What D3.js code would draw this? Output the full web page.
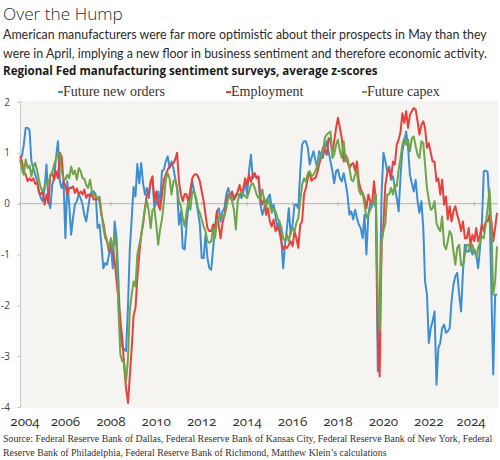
<!DOCTYPE html>
<html lang="en">
<head>
<meta charset="UTF-8">
<title>Over the Hump</title>
<script src="https://d3js.org/d3.v7.min.js"></script>
<style>
  body { margin: 0; background: #fff; }
  svg { display: block; }
</style>
</head>
<body>
<svg width="500" height="460"></svg>
<script>
// Monthly average z-scores, May 2004 to May 2025
const startMonth = new Date(2004, 4, 1);

const futureNewOrders = [
  0.93, 0.93, 1.16, 1.49, 1.49, 1.45, 0.83, 0.70, 0.57, 0.44, 0.24, 0.11,
  0.05, 0.31, 0.77, 0.05, -0.09, 0.37, 0.50, 0.90, 1.23, 0.44, 0.31, 0.44,
  -0.68, 0.44, -0.02, -0.61, -0.28, -0.02, 0.05, 0.18, 0.11, -0.02, -0.22, -0.35,
  -0.09, 0.18, 0.24, 0.24, 0.18, -0.48, -0.41, -0.81, -1.27, -1.17, -1.20, -1.00,
  -0.81, -1.27, -0.35, -0.68, -1.53, -2.58, -2.81, -2.87, -2.90, -2.00, -0.90, -0.30,
  0.33, 0.14, 0.78, 0.40, 0.80, 0.40, 0.18, 0.31, 0.11, 0.44, 0.50, -0.09,
  0.05, 0.24, -0.02, 0.64, 0.67, 0.83, 0.93, 0.70, 0.83, 0.70, 0.50, 0.31,
  -0.41, -0.15, -0.87, -0.90, -0.41, -0.02, 0.18, 0.44, 0.24, 0.05, -0.15, -0.41,
  -1.07, -1.07, -0.61, -1.07, -1.27, -1.30, -0.87, -0.48, -0.15, -0.09, -0.35, -0.15,
  -0.09, 0.18, 0.31, 0.18, 0.05, 0.11, 0.18, 0.18, 0.18, 0.11, 0.24, 0.44,
  0.18, 0.64, 0.96, 0.50, 0.57, 0.50, 0.50, -0.02, -0.22, -0.09, 0.05, 0.11,
  0.18, -0.09, -0.02, -0.25, -0.48, -0.35, -0.68, -1.27, -0.81, -0.48, -0.09, -0.61,
  -0.41, -0.02, -0.02, -0.09, 0.64, 1.16, 1.23, 1.23, 1.10, 0.77, 0.90, 1.03,
  0.87, 0.70, 1.03, 0.96, 0.90, 1.10, 1.23, 1.03, 0.83, 0.64, 0.40, 0.64,
  0.67, 0.50, 0.44, 0.60, 0.40, 0.18, -0.22, -0.15, -0.31, -0.12, -0.28, -0.41,
  -0.48, -0.68, -0.22, -1.00, -0.22, 0.01, -0.02, 0.05, -0.09, -3.30, -2.00, 0.18,
  1.00, 0.83, 0.64, 0.73, 0.47, 0.54, 0.31, 0.11, -0.15, 0.57, 1.03, 1.23,
  1.42, 1.10, 0.57, 0.40, 0.24, 0.47, 0.05, -0.18, 0.05, -0.48, -1.53, -1.79,
  -2.74, -2.45, -2.31, -2.12, -3.56, -2.84, -2.74, -2.45, -2.38, -2.54, -2.51, -2.45,
  -1.92, -1.59, -1.43, -1.36, -1.79, -2.12, -1.33, -0.81, -0.94, -0.94, -0.81, -1.00,
  -0.90, -1.00, -1.27, -0.87, -0.35, 0.64, 0.65, 0.62, -0.02, -1.79, -3.36, -1.79,
  -1.79
];

const employment = [
  0.93, 0.83, 0.64, 0.57, 0.44, 0.50, 0.45, 0.50, 0.39, 0.41, 0.24, 0.18,
  0.24, -0.02, 0.18, 0.01, 0.57, 0.60, 0.47, 0.64, 0.50, 1.00, 0.93, 0.44,
  0.34, 0.18, 0.31, 0.31, 0.34, 0.21, 0.30, 0.18, 0.24, 0.18, 0.28, 0.11,
  0.18, 0.14, 0.18, 0.08, 0.10, 0.11, 0.05, -0.22, -0.38, -0.61, -0.74, -0.94,
  -0.74, -0.87, -1.13, -1.53, -1.90, -2.30, -2.65, -3.20, -3.65, -3.92, -3.40, -2.84,
  -2.20, -2.05, -1.45, -1.00, -0.61, -0.41, -0.09, 0.18, 0.21, 0.44, 0.54, 0.05,
  0.24, -0.02, -0.12, 0.18, 0.47, 0.57, 0.67, 0.73, 0.77, 0.80, 0.87, 1.00,
  0.44, 0.18, 0.05, 0.19, 0.18, 0.01, 0.28, 0.50, 0.57, 0.58, 0.54, 0.44,
  0.24, 0.05, -0.22, -0.48, -0.54, -0.54, -0.41, -0.48, -0.15, -0.45, -0.68, -0.38,
  -0.22, 0.01, 0.18, 0.11, 0.24, 0.08, 0.14, 0.24, 0.37, 0.18, 0.31, 0.50,
  0.37, 0.57, 0.43, 0.57, 0.60, 0.50, 0.54, 0.11, -0.02, 0.11, -0.22, -0.09,
  -0.35, -0.45, -0.31, -0.54, -0.45, -0.54, -0.74, -0.90, -0.84, -0.87, -0.81, -0.74,
  -0.84, -0.54, -0.68, -0.87, -0.41, -0.35, 0.18, 0.31, 0.50, 0.62, 0.45, 0.50,
  0.50, 0.60, 0.77, 0.90, 1.10, 1.06, 0.96, 1.29, 1.23, 1.00, 1.23, 1.49,
  1.69, 1.49, 1.29, 0.83, 0.96, 0.83, 0.70, 0.77, 0.80, 0.64, 0.83, 0.44,
  0.28, 0.21, 0.11, -0.09, 0.18, 0.05, -0.02, 0.44, 0.05, -2.60, -3.40, -0.81,
  -0.41, 0.37, 0.60, 0.70, 0.50, 0.83, 0.77, 1.16, 1.26, 1.42, 1.78, 1.59,
  1.82, 1.49, 1.75, 1.82, 1.88, 1.85, 1.62, 1.36, 1.55, 1.62, 1.49, 1.10,
  1.19, 1.00, 0.83, 0.83, 0.44, 0.50, 0.18, 0.47, -0.02, 0.14, -0.31, -0.05,
  -0.35, -0.15, -0.05, -0.22, -0.35, -0.54, -0.35, -0.68, -0.68, -0.48, -0.81, -0.61,
  -0.74, -0.48, -0.74, -0.61, -0.41, -0.54, -0.35, -0.35, -0.22, -0.35, -0.74, -0.48,
  -0.18
];

const futureCapex = [
  0.87, 0.67, 0.57, 0.87, 0.70, 0.75, 0.54, 0.73, 0.80, 0.64, 0.47, 0.31,
  0.24, 0.34, 0.44, 0.41, 0.54, 0.62, 0.77, 0.87, 1.00, 0.96, 0.64, 0.50,
  0.47, 0.57, 0.50, 0.73, 0.58, 0.65, 0.47, 0.70, 0.64, 0.50, 0.49, 0.37,
  0.31, 0.47, 0.24, 0.18, 0.14, 0.11, 0.14, -0.15, -0.48, -0.68, -0.74, -0.87,
  -0.68, -0.90, -0.61, -0.87, -2.12, -2.97, -3.10, -3.13, -3.50, -3.04, -2.12, -1.79,
  -1.53, -1.63, -1.00, -0.81, -0.64, -0.35, -0.09, 0.05, -0.15, -0.48, -0.12, -0.09,
  -0.41, -0.81, -0.51, -0.31, 0.05, 0.47, 0.60, 0.50, 0.18, 0.44, 0.47, 0.31,
  0.05, -0.05, -0.28, -0.45, -0.15, 0.05, -0.12, 0.24, 0.23, 0.11, -0.09, -0.18,
  -0.31, -0.45, -0.54, -0.74, -0.77, -0.74, -0.48, -0.68, -0.35, -0.28, -0.22, -0.27,
  -0.25, -0.09, 0.11, 0.18, 0.05, -0.12, -0.51, 0.05, 0.18, 0.24, 0.18, 0.14,
  0.11, 0.24, 0.37, 0.40, 0.31, 0.18, 0.11, 0.11, 0.28, 0.05, -0.09, 0.11,
  -0.02, -0.18, -0.09, -0.15, -0.28, -0.35, -0.45, -0.68, -0.74, -0.61, -0.74, -0.54,
  -0.48, -0.54, -0.38, -0.28, 0.05, 0.37, 0.50, 0.43, 0.60, 0.64, 0.54, 0.57,
  0.64, 0.73, 0.87, 0.93, 1.03, 1.29, 1.36, 1.39, 1.42, 0.90, 0.96, 1.16,
  1.26, 1.03, 0.90, 1.23, 0.83, 0.90, 0.70, 0.47, 0.44, 0.57, 0.67, 0.28,
  0.18, 0.21, -0.02, -0.28, -0.22, -0.12, -0.05, 0.08, 0.18, -2.00, -2.50, -0.74,
  -0.54, -0.38, 0.18, 0.18, 0.31, 0.18, 0.37, 0.34, 0.67, 0.90, 1.16, 1.29,
  1.16, 1.26, 1.03, 1.29, 1.32, 1.13, 0.96, 0.90, 1.23, 1.19, 0.77, 0.31,
  0.08, -0.12, -0.09, 0.05, -0.38, -0.48, -0.54, -0.25, -0.81, -0.90, -0.74, -0.54,
  -0.61, -0.94, -1.20, -0.87, -0.81, -1.20, -1.23, -1.00, -0.81, -0.81, -0.94, -0.81,
  -0.94, -1.04, -0.87, -0.77, -0.64, -0.68, -0.41, -0.09, 0.28, -0.48, -1.79, -1.53,
  -0.84
];

const seriesNames = ["Future new orders", "Employment", "Future capex"];
const seriesColors = ["#3d8fd1", "#e8413d", "#6ea54a"];
const yTicks = [2, 1, 0, -1, -2, -3, -4];
const xTickYears = [2004, 2006, 2008, 2010, 2012, 2014, 2016, 2018, 2020, 2022, 2024];

const width = 500, height = 460;
const plot = {left: 21, right: 498, top: 101, bottom: 408};

const svg = d3.select("svg");

const months = d3.timeMonth.range(startMonth, d3.timeMonth.offset(startMonth, futureNewOrders.length));

const x = d3.scaleTime()
    .domain([months[0], months[months.length - 1]])
    .range([20, 497]);
const y = d3.scaleLinear()
    .domain([-4, 2])
    .range([407, 102]);

// shrink/grow a text's font size so it spans a given width
function fitWidth(sel, target) {
    const w = sel.node().getComputedTextLength();
    const fs = parseFloat(sel.style("font-size"));
    sel.style("font-size", (fs * target / w).toFixed(2) + "px");
}

// headings
const sans = "'Open Sans', 'Noto Sans', sans-serif";
const narrowSans = "Lato, 'Open Sans', sans-serif";
const serif = "'Liberation Serif', 'DejaVu Serif', serif";

const title = svg.append("text").attr("x", 3).attr("y", 20)
    .text("Over the Hump")
    .style("font-family", sans).style("font-weight", 300)
    .style("font-size", "20px").style("fill", "#2b2b2b");
fitWidth(title, 120);

const sub1 = svg.append("text").attr("x", 3).attr("y", 39)
    .text("American manufacturers were far more optimistic about their prospects in May than they")
    .style("font-family", narrowSans).style("font-size", "14px").style("fill", "#2b2b2b");
fitWidth(sub1, 484);
svg.append("text").attr("x", 3).attr("y", 57.5)
    .text("were in April, implying a new floor in business sentiment and therefore economic activity.")
    .style("font-family", narrowSans).style("font-size", sub1.style("font-size")).style("fill", "#2b2b2b");

const head = svg.append("text").attr("x", 3).attr("y", 75)
    .text("Regional Fed manufacturing sentiment surveys, average z-scores")
    .style("font-family", sans).style("font-weight", "bold")
    .style("font-size", "12px").style("fill", "#1a1a1a");
fitWidth(head, 375);

// legend
const legendX = [58, 226, 362];
seriesNames.forEach((name, i) => {
    svg.append("rect")
        .attr("x", legendX[i]).attr("y", 91)
        .attr("width", 5).attr("height", 2)
        .style("fill", seriesColors[i]);
    svg.append("text")
        .attr("x", legendX[i] + 5).attr("y", 96)
        .text(name)
        .style("font-family", serif).style("font-size", "14px").style("fill", "#333");
});

// plot background
svg.append("rect")
    .attr("x", plot.left).attr("y", plot.top)
    .attr("width", plot.right - plot.left).attr("height", plot.bottom - plot.top)
    .style("fill", "#f6f4f0");

// y axis
svg.append("line")
    .attr("x1", plot.left - 0.5).attr("x2", plot.left - 0.5)
    .attr("y1", plot.top).attr("y2", plot.bottom)
    .style("stroke", "#c8c8c8");
svg.selectAll(".ytick")
    .data(yTicks)
    .enter().append("line")
    .attr("x1", plot.left - 4).attr("x2", plot.left)
    .attr("y1", d => y(d) + 0.5).attr("y2", d => y(d) + 0.5)
    .style("stroke", "#c8c8c8");
svg.selectAll(".ylabel")
    .data(yTicks)
    .enter().append("text")
    .attr("x", 10).attr("y", d => y(d) + 3.5)
    .attr("text-anchor", "end")
    .text(d => d)
    .style("font-family", sans).style("font-size", "10px").style("fill", "#444");

// zero line with year ticks
svg.append("line")
    .attr("x1", plot.left).attr("x2", plot.right)
    .attr("y1", y(0)).attr("y2", y(0))
    .style("stroke", "#b5b5b5");
svg.selectAll(".xtick")
    .data(xTickYears)
    .enter().append("line")
    .attr("x1", d => x(new Date(d, 4, 1))).attr("x2", d => x(new Date(d, 4, 1)))
    .attr("y1", y(0) - 2).attr("y2", y(0) + 2)
    .style("stroke", "#b5b5b5");

// x labels
svg.selectAll(".xlabel")
    .data(xTickYears)
    .enter().append("text")
    .attr("x", d => Math.min(Math.max(x(new Date(d, 4, 1)), 25), 471))
    .attr("y", 426)
    .attr("text-anchor", "middle")
    .text(d => d)
    .style("font-family", sans).style("font-size", "13.5px")
    .style("font-feature-settings", "'onum'")
    .style("fill", "#333");

// series lines
const line = d3.line()
    .x((d, i) => x(months[i]))
    .y(d => y(d));

[futureNewOrders, employment, futureCapex].forEach((values, i) => {
    svg.append("path")
        .datum(values)
        .attr("d", line)
        .style("fill", "none")
        .style("stroke", seriesColors[i])
        .style("stroke-width", 2)
        .style("stroke-linejoin", "round");
});

// source note
const src1 = svg.append("text").attr("x", 3).attr("y", 442)
    .text("Source: Federal Reserve Bank of Dallas, Federal Reserve Bank of Kansas City, Federal Reserve Bank of New York, Federal")
    .style("font-family", serif).style("font-size", "10.5px").style("fill", "#333");
fitWidth(src1, 490);
svg.append("text").attr("x", 3).attr("y", 456)
    .text("Reserve Bank of Philadelphia, Federal Reserve Bank of Richmond, Matthew Klein\u2019s calculations")
    .style("font-family", serif).style("font-size", src1.style("font-size")).style("fill", "#333");
</script>
</body>
</html>
